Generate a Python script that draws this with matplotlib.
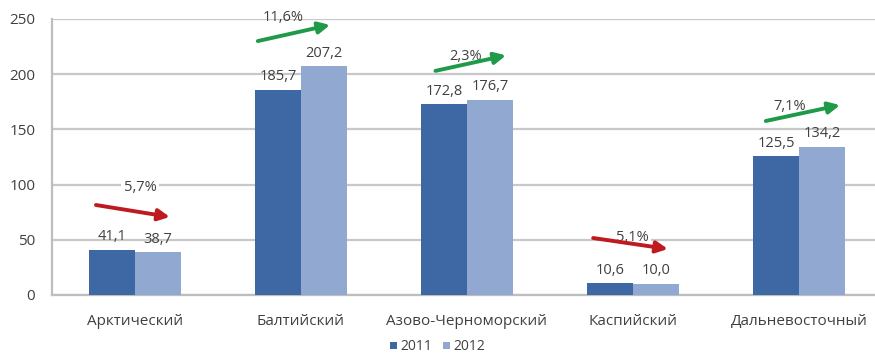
import numpy as np
import matplotlib.pyplot as plt

plt.rcParams['font.family'] = ['Open Sans', 'DejaVu Sans']

# data
regions = ['Арктический', 'Балтийский', 'Азово-Черноморский', 'Каспийский', 'Дальневосточный']
v2011 = [41.1, 185.7, 172.8, 10.6, 125.5]
v2012 = [38.7, 207.2, 176.7, 10.0, 134.2]
changes = ['5,7%', '11,6%', '2,3%', '5,1%', '7,1%']
growth = [False, True, True, False, True]

c2011 = '#3E68A4'
c2012 = '#91A9D0'
txt = '#404040'

fig = plt.figure(figsize=(8.75, 3.58), dpi=100)
ax = fig.add_axes([0.0594, 0.176, 0.9486, 0.771])

x = np.arange(len(regions))
w = 0.277
b1 = ax.bar(x - w / 2, v2011, w, color=c2011, zorder=3, label='2011')
b2 = ax.bar(x + w / 2, v2012, w, color=c2012, zorder=3, label='2012')

def fmt(v):
    return f'{v:.1f}'.replace('.', ',')

for bars, vals in ((b1, v2011), (b2, v2012)):
    for r, v in zip(bars, vals):
        ax.annotate(fmt(v), (r.get_x() + r.get_width() / 2, v), xytext=(0, 4),
                    textcoords='offset points', ha='center', va='bottom',
                    fontsize=10.5, color=txt, zorder=5)

# arrows with percent change, placed relative to each group
arrow_from = [(-0.235, 81.5), (-0.26, 230), (-0.19, 203), (-0.24, 51.6), (-0.2, 157.6)]
arrow_to = [(0.21, 70.7), (0.175, 244.6), (0.235, 217), (0.21, 41.7), (0.247, 172)]
label_pos = [(0.03, 97), (-0.11, 251), (-0.006, 216), (-0.006, 52.5), (-0.054, 171)]

for i in range(len(regions)):
    col = '#1E9A48' if growth[i] else '#BE1A1F'
    lx, ly = label_pos[i]
    bbox = dict(facecolor='white', edgecolor='none', pad=2) if not growth[i] else None
    ax.text(i + lx, ly, changes[i], ha='center', va='center', fontsize=10.5,
            color=txt, zorder=4, bbox=bbox, clip_on=False)
    sx, sy = arrow_from[i]
    ex, ey = arrow_to[i]
    ax.annotate('', xy=(i + ex, ey), xytext=(i + sx, sy),
                arrowprops=dict(arrowstyle='-|>', color=col, lw=2.8,
                                mutation_scale=17, shrinkA=0, shrinkB=0),
                zorder=6, annotation_clip=False)

ax.set_ylim(0, 250)
ax.set_xlim(-0.5, len(regions) - 0.5)
ax.set_yticks([0, 50, 100, 150, 200, 250])
ax.set_xticks(x)
ax.set_xticklabels(regions)
ax.tick_params(axis='both', length=0, labelsize=11, colors=txt)
ax.tick_params(axis='x', pad=14)
ax.tick_params(axis='y', pad=12)
ax.yaxis.grid(True, color='#C8C8C8', lw=1.6, zorder=0)
ax.set_axisbelow(True)
for s in ('top', 'right'):
    ax.spines[s].set_visible(False)
for s in ('left', 'bottom'):
    ax.spines[s].set_color('#BEBEBE')
    ax.spines[s].set_linewidth(1.6)

fig.legend(handles=[b1, b2], loc='lower center', bbox_to_anchor=(0.5, -0.025), ncol=2,
           frameon=False, fontsize=10, handlelength=0.5, handleheight=0.5,
           handletextpad=0.25, columnspacing=0.8, labelcolor=txt)

fig.savefig('out.png', dpi=100)
